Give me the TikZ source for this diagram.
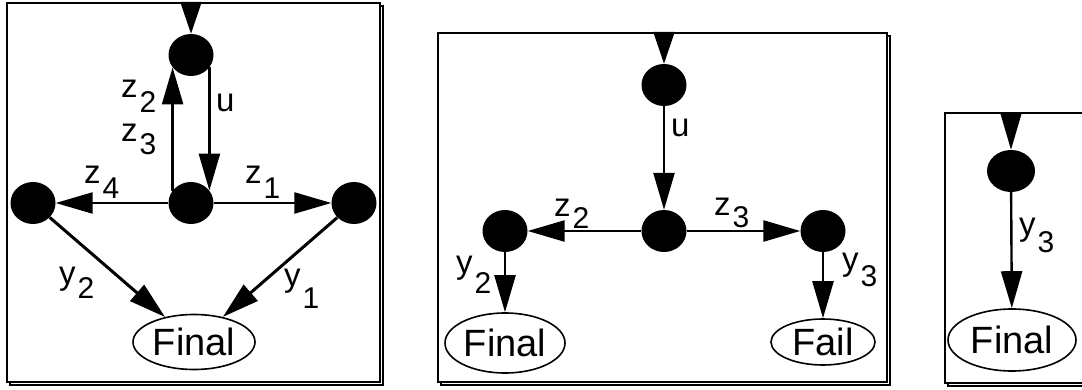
\documentclass[tikz,border=0pt]{standalone}
\usepackage{fontspec}
\setmainfont{Liberation Sans}
\usetikzlibrary{arrows.meta,shapes.geometric}
\newcommand{\labsz}{\fontsize{33}{33}\selectfont}
\newcommand{\subsz}{\fontsize{30}{30}\selectfont}
\newcommand{\termsz}{\fontsize{38}{38}\selectfont}
\newcommand{\lbl}[3]{#1\kern2pt\raisebox{-#3pt}{\subsz #2}}
\begin{document}
\begin{tikzpicture}[x=1pt,y=-1pt,
  dot/.style={ellipse,fill=black,draw=none,inner sep=0pt,minimum width=45pt,minimum height=42pt},
  term/.style={ellipse,draw=black,line width=1.6pt,fill=white,inner sep=0pt,font=\termsz},
  arr/.style={line width=2.4pt,-{Triangle[length=37pt,width=21pt]}},
  inarr/.style={line width=2.4pt,-{Triangle[length=#1,width=21pt]}},
  lab/.style={anchor=base west,inner sep=0pt,font=\labsz},
  frame/.style={line width=2.2pt,draw=black,fill=white},
  shadow/.style={line width=2.2pt,draw=black}]
\useasboundingbox (0,0) rectangle (1082,390);

% ---------- frames ----------
\draw[shadow] (10,6) rectangle (383,385);
\draw[frame] (7,3) rectangle (380,382);
\draw[shadow] (441,36) rectangle (890,385);
\draw[frame] (438,33) rectangle (887,382);
\draw[shadow] (948,116) rectangle (1098,386);
\draw[frame] (945,113) rectangle (1095,383);

% ---------- box 1 ----------
\node[dot] (t1) at (191,55) {};
\node[dot] (m1) at (191,203) {};
\node[dot] (l1) at (33,203) {};
\node[dot] (r1) at (354,203) {};
\node[term,minimum width=122pt,minimum height=55pt] (f1) at (194,342) {Final};
\coordinate (in1) at (191,3);
\draw[inarr=32pt] (in1) -- (t1);
\draw[arr] (m1.146) -- (m1.146 |- t1.214);
\draw[arr] (t1.326) -- (t1.326 |- m1.34);
\draw[arr] (m1) -- (l1);
\draw[arr] (m1) -- (r1);
\draw[arr,line width=3pt] (l1) -- (f1);
\draw[arr,line width=3pt] (r1) -- (f1);
\node[lab] (a1) at (121,98) {\lbl{z}{2}{15}};
\node[lab] (a2) at (121,142) {\lbl{z}{3}{13}};
\node[lab] (a3) at (216,112) {u};
\node[lab] (a4) at (84,184) {\lbl{z}{4}{15}};
\node[lab] (a5) at (245,184) {\lbl{z}{1}{15}};
\node[lab] (a6) at (59,284) {\lbl{y}{2}{14}};
\node[lab] (a7) at (284,287) {\lbl{y}{1}{21}};

% ---------- box 2 ----------
\node[dot] (t2) at (664,85) {};
\node[dot] (m2) at (664,231) {};
\node[dot] (l2) at (505,231) {};
\node[dot] (r2) at (823,231) {};
\node[term,minimum width=120pt,minimum height=60pt] (f2) at (505,343) {Final};
\node[term,minimum width=104pt,minimum height=46pt] (x2) at (823,342) {Fail};
\coordinate (in2) at (664,33);
\draw[inarr=32pt] (in2) -- (t2);
\draw[arr] (t2) -- (m2);
\draw[arr] (m2) -- (l2);
\draw[arr] (m2) -- (r2);
\draw[arr] (l2) -- (f2);
\draw[arr] (r2) -- (x2);
\node[lab] (b1) at (671,137) {u};
\node[lab] (b2) at (554,217) {\lbl{z}{2}{12}};
\node[lab] (b3) at (714,216) {\lbl{z}{3}{12}};
\node[lab] (b4) at (456,273) {\lbl{y}{2}{20}};
\node[lab] (b5) at (842,270) {\lbl{y}{3}{17}};

% ---------- box 3 ----------
\node[dot,minimum width=48pt,minimum height=42pt] (t3) at (1011,171) {};
\node[term,minimum width=128pt,minimum height=62pt] (f3) at (1012,340) {Final};
\coordinate (in3) at (1011,113);
\draw[inarr=37pt] (in3) -- (t3);
\draw[arr] (t3) -- (f3);
\node[lab] (c1) at (1019,236) {\lbl{y}{3}{17}};
\end{tikzpicture}
\end{document}
